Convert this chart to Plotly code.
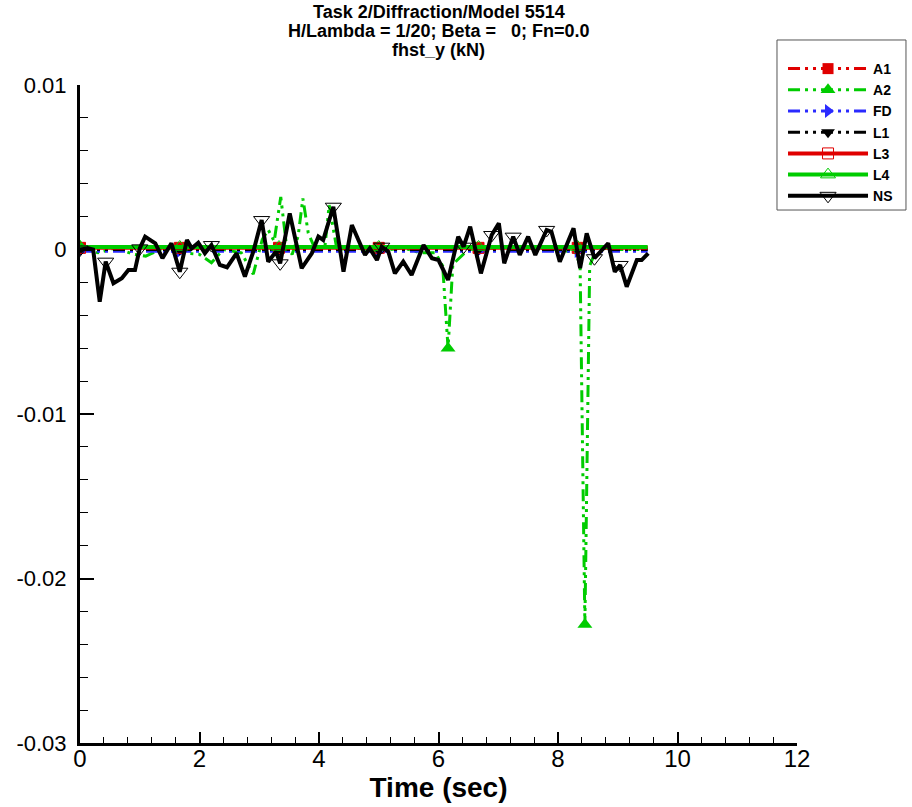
import plotly.graph_objects as go

# ---------------- data ----------------
ns_t = [0.00, 0.14, 0.22, 0.33, 0.43, 0.56, 0.70, 0.81, 0.92, 1.00, 1.09, 1.26, 1.38, 1.53, 1.67,
        1.79, 1.87, 1.98, 2.09, 2.20, 2.34, 2.46, 2.62, 2.76, 2.90, 3.04, 3.15, 3.28, 3.35, 3.51,
        3.71, 3.88, 3.99, 4.07, 4.24, 4.41, 4.55, 4.77, 4.85, 4.97, 5.05, 5.16, 5.27, 5.41, 5.55,
        5.75, 5.89, 6.00, 6.16, 6.33, 6.42, 6.53, 6.71, 6.89, 7.01, 7.10, 7.25, 7.36, 7.50, 7.62,
        7.81, 7.89, 8.03, 8.26, 8.37, 8.48, 8.61, 8.73, 8.84, 8.95, 9.04, 9.15, 9.32, 9.40, 9.51]
ns_v = [0.00000, 0.00007, 0.00000, -0.00317, -0.00074, -0.00205, -0.00175, -0.00125, -0.00125, 0.00007,
        0.00078, 0.00038, -0.00053, 0.00038, -0.00135, 0.00058, 0.00007, 0.00041, -0.00023, 0.00027,
        -0.00094, -0.00108, -0.00023, -0.00165, -0.00013, 0.00179, -0.00074, -0.00013, -0.00084, 0.00220,
        -0.00114, -0.00023, 0.00078, 0.00058, 0.00260, -0.00135, 0.00149, -0.00033, 0.00007, -0.00064,
        0.00017, -0.00013, -0.00145, -0.00074, -0.00155, 0.00027, -0.00053, -0.00064, -0.00185, 0.00078,
        0.00017, 0.00139, -0.00145, 0.00088, 0.00159, -0.00084, 0.00078, -0.00033, 0.00078, -0.00033,
        0.00119, 0.00108, -0.00074, 0.00129, -0.00114, 0.00098, -0.00053, -0.00003, 0.00038, -0.00135,
        -0.00094, -0.00226, -0.00064, -0.00064, -0.00023]
ns_mark_idx = [0, 4, 9, 14, 19, 25, 28, 34, 40, 50, 53, 56, 60, 66, 70]

a2_t = [0.00, 0.30, 0.60, 0.90, 1.10, 1.40, 1.70, 2.00, 2.20, 2.40, 2.70, 2.90, 2.95, 3.05, 3.15,
        3.25, 3.36, 3.45, 3.55, 3.65, 3.73, 3.82, 3.95, 4.10, 4.17, 4.30, 4.60, 5.00, 5.40, 5.70,
        5.95, 6.07, 6.16, 6.24, 6.50, 6.80, 7.20, 7.60, 8.00, 8.30, 8.37, 8.45, 8.53, 8.65, 9.00, 9.50]
a2_v = [0.0002, -0.0002, 0.0001, -0.0003, -0.0004, 0.0001, -0.0002, -0.0003, -0.0008, 0.0000,
        -0.0002, -0.0015, -0.0008, 0.0006, 0.0012, 0.0005, 0.0032, 0.0004, -0.0003, 0.0008,
        0.0031, 0.0010, -0.0001, 0.0002, 0.0027, 0.0000, 0.0001, -0.0001, 0.0001, -0.0002,
        -0.0002, -0.0010, -0.0060, -0.0009, 0.0000, 0.0001, 0.0000, 0.0001, 0.0000, -0.0002,
        -0.0010, -0.0228, -0.0010, 0.0001, 0.0000, 0.0000]
a2_mark_idx = [0, 32, 41]

flat_t = [0.00, 0.50, 1.00, 1.50, 1.67, 2.00, 2.50, 3.00, 3.33, 3.50, 4.00, 4.50, 5.00, 5.50,
          6.00, 6.50, 6.67, 7.00, 7.50, 8.00, 8.33, 8.50, 9.00, 9.50]
a1_v = [0.0001] * 24
fd_v = [-0.0001] * 24
l1_v = [0.0000] * 24
l3_v = [0.0001] * 24
l4_v = [0.00015] * 24
flat_mark_idx = [0, 4, 8, 12, 16, 20]

title_lines = ["Task 2/Diffraction/Model 5514",
               "H/Lambda = 1/20; Beta = &nbsp; 0; Fn=0.0",
               "fhst_y (kN)"]

RED, GREEN, BLUE, BLACK = "#e00000", "#00cc00", "#2a2aff", "#000000"
DDD = "12px,5px,3px,5px,3px,5px"

series = [
    ("A1", flat_t, a1_v, flat_mark_idx, RED, DDD, 3, "square", 11),
    ("A2", a2_t, a2_v, a2_mark_idx, GREEN, DDD, 3, "triangle-up", 13),
    ("FD", flat_t, fd_v, flat_mark_idx, BLUE, DDD, 3, "triangle-right", 12),
    ("L1", flat_t, l1_v, flat_mark_idx, BLACK, DDD, 3, "triangle-down", 12),
    ("L3", flat_t, l3_v, flat_mark_idx, RED, "solid", 4, "square-open", 11),
    ("L4", flat_t, l4_v, flat_mark_idx, GREEN, "solid", 4, "triangle-up-open", 13),
    ("NS", ns_t, ns_v, ns_mark_idx, BLACK, "solid", 4, "triangle-down-open", 14),
]

fig = go.Figure()
for name, t, v, idx, col, dash, w, sym, ms in series:
    mline = dict(color=("#444444" if col == BLACK else col), width=1) if "open" in sym else dict(width=0)
    fig.add_trace(go.Scatter(x=t, y=v, mode="lines", line=dict(color=col, width=w, dash=dash),
                             showlegend=False, hoverinfo="skip"))
    fig.add_trace(go.Scatter(x=[t[i] for i in idx], y=[v[i] for i in idx], mode="markers",
                             marker=dict(symbol=sym, size=ms, color=col, line=mline),
                             showlegend=False, hoverinfo="skip"))
    fig.add_trace(go.Scatter(x=[None], y=[None], mode="lines+markers", name=name,
                             line=dict(color=col, width=w, dash=dash),
                             marker=dict(symbol=sym, size=ms, color=col, line=mline)))

y_ticks = [0.01, 0, -0.01, -0.02, -0.03]
y_labels = ["0.01", "0", "-0.01", "-0.02", "-0.03"]
x_ticks = [0, 2, 4, 6, 8, 10, 12]

for i, (txt, yy) in enumerate(zip(title_lines, [1.1109, 1.0821, 1.0532])):
    fig.add_annotation(text="<b>" + txt + "</b>", xref="paper", yref="paper", x=0.5, y=yy,
                       xanchor="center", yanchor="middle", showarrow=False,
                       font=dict(size=18, family="Liberation Sans, Arial, sans-serif", color="black"))

# legend frame
fig.add_shape(type="rect", xref="paper", yref="paper", x0=0.9721, x1=1.152, y0=0.810, y1=1.0684,
              line=dict(color="#555555", width=1), fillcolor="rgba(0,0,0,0)")

fig.update_layout(
    width=912, height=807,
    margin=dict(l=80, r=115, t=85, b=64, autoexpand=False),
    paper_bgcolor="white", plot_bgcolor="white",
    font=dict(family="Liberation Sans, Arial, sans-serif", color="black"),
    legend=dict(x=0.9805, y=1.0486, xanchor="left", yanchor="top",
                borderwidth=0, bgcolor="rgba(0,0,0,0)",
                font=dict(size=14, family="Liberation Sans, Arial, sans-serif", weight="bold"),
                itemwidth=80, tracegroupgap=0),
    xaxis=dict(range=[0, 12], tickvals=x_ticks, ticks="inside", ticklen=11, tickwidth=2,
               tickcolor="black", showline=True, linewidth=3, linecolor="black", mirror=False,
               showgrid=False, zeroline=False, automargin=False, ticklabelstandoff=-8,
               tickfont=dict(size=24, family="Liberation Sans Narrow, Liberation Sans, Arial"),
               minor=dict(dtick=0.4, ticks="inside", ticklen=6, tickwidth=1, tickcolor="black"),
               title=dict(text="<b>Time (sec)</b>", standoff=0,
                          font=dict(size=28, family="Liberation Sans Narrow, Liberation Sans, Arial"))),
    yaxis=dict(range=[-0.03, 0.01], tickvals=y_ticks, ticktext=y_labels, ticks="inside", ticklen=14,
               tickwidth=2, tickcolor="black", showline=True, linewidth=3, linecolor="black",
               mirror=False, showgrid=False, zeroline=False, automargin=False, ticklabelstandoff=6,
               tickfont=dict(size=22, family="Liberation Sans, Arial"),
               minor=dict(dtick=0.002, ticks="inside", ticklen=8, tickwidth=1, tickcolor="black")),
)

fig.write_html("out.html", config={"displayModeBar": False},
               post_script="document.body.style.margin='0';document.body.style.overflow='hidden';")
